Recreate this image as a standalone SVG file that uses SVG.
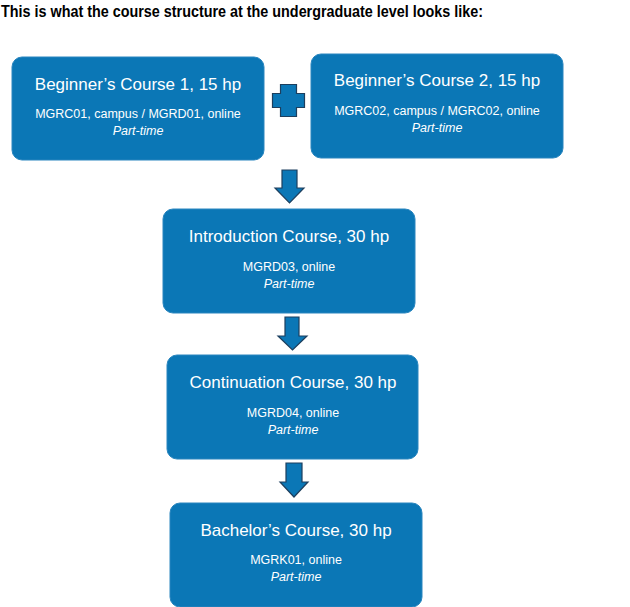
<svg xmlns="http://www.w3.org/2000/svg" width="630" height="607" viewBox="0 0 630 607">
<style>
.box{fill:#0b77b6;stroke:#2a86bf;stroke-width:1}
.ar{fill:#0b77b6;stroke:#1d3f5e;stroke-width:1.2;stroke-linejoin:miter}
.t{font-family:"Liberation Sans",Arial,sans-serif;fill:#ffffff;text-anchor:middle}
.h{font-size:17px}
.s{font-size:12.5px}
.i{font-size:12.5px;font-style:italic}
.title{font-family:"Liberation Sans",Arial,sans-serif;font-weight:bold;font-size:16px;fill:#000}
</style>
<rect width="630" height="607" fill="#ffffff"/>
<text class="title" x="1" y="17" textLength="482" lengthAdjust="spacingAndGlyphs">This is what the course structure at the undergraduate level looks like:</text>
<g id="connectors">
<path class="ar" d="M272.5,93.5 H280.5 V84.5 H296.5 V93.5 H304.5 V107.5 H296.5 V116.5 H280.5 V107.5 H272.5 Z"/>
<path class="ar" d="M282,170 H297 V188 H304 L289.5,203 L275,188 H282 Z"/>
<path class="ar" d="M285,317 H299 V336 H307 L292.5,350 L278,336 H285 Z"/>
<path class="ar" d="M286,463 H302 V482 H308 L294,497 L280,482 H286 Z"/>
</g>
<g id="n1">
<rect class="box" x="12" y="57" width="252" height="103" rx="10"/>
<text class="t h" x="138" y="90">Beginner’s Course 1, 15 hp</text>
<text class="t s" x="138" y="118">MGRC01, campus / MGRD01, online</text>
<text class="t i" x="138" y="135">Part-time</text>
</g>
<g id="n2">
<rect class="box" x="311" y="54" width="252" height="104" rx="10"/>
<text class="t h" x="437" y="86">Beginner’s Course 2, 15 hp</text>
<text class="t s" x="437" y="115">MGRC02, campus / MGRC02, online</text>
<text class="t i" x="437" y="132">Part-time</text>
</g>
<g id="n3">
<rect class="box" x="163" y="209" width="252" height="104" rx="10"/>
<text class="t h" x="289" y="242">Introduction Course, 30 hp</text>
<text class="t s" x="289" y="271">MGRD03, online</text>
<text class="t i" x="289" y="288">Part-time</text>
</g>
<g id="n4">
<rect class="box" x="167" y="355" width="251" height="104" rx="10"/>
<text class="t h" x="293" y="388">Continuation Course, 30 hp</text>
<text class="t s" x="293" y="417">MGRD04, online</text>
<text class="t i" x="293" y="434">Part-time</text>
</g>
<g id="n5">
<rect class="box" x="170" y="503" width="252" height="104" rx="10"/>
<text class="t h" x="296" y="536">Bachelor’s Course, 30 hp</text>
<text class="t s" x="296" y="564">MGRK01, online</text>
<text class="t i" x="296" y="581">Part-time</text>
</g>
</svg>
